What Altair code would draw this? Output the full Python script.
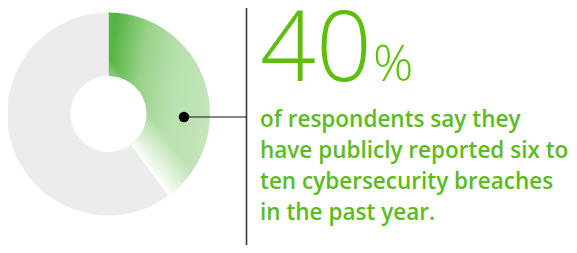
import altair as alt
import pandas as pd

# ---- data ----
slice_labels = ["publicly reported six to ten breaches", "other respondents"]
slice_values = [40, 60]
slice_order = [0, 1]
headline_number = "40"
headline_unit = "%"
body_lines = [
    "of respondents say they",
    "have publicly reported six to",
    "ten cybersecurity breaches",
    "in the past year.",
]

df = pd.DataFrame({"label": slice_labels, "value": slice_values, "idx": slice_order})
highlight = slice_labels[0]

GREEN_TEXT = "#5dbf0a"
BODY_GREEN = "#5cbb22"
GRAY = "#ebeceb"

CX, CY = 100.5, 106
R_OUT, R_IN = 101.5, 38

green_grad = alt.LinearGradient(
    gradient="linear",
    x1=0, y1=0.3, x2=1, y2=0.6,
    stops=[
        alt.GradientStop(color="#55b443", offset=0),
        alt.GradientStop(color="#98d28a", offset=0.3),
        alt.GradientStop(color="#b8e0ad", offset=0.6),
        alt.GradientStop(color="#c4e6bb", offset=1),
    ],
)
white_fade = alt.LinearGradient(
    gradient="linear",
    x1=0.37, y1=0.52, x2=0.218, y2=0.72,
    stops=[
        alt.GradientStop(color="rgba(255,255,255,0)", offset=0),
        alt.GradientStop(color="rgba(255,255,255,0.6)", offset=0.6),
        alt.GradientStop(color="rgba(255,255,255,1)", offset=1),
    ],
)

base = alt.Chart(df).encode(
    theta=alt.Theta("value:Q", stack=True),
    order=alt.Order("idx:Q"),
    x=alt.value(CX),
    y=alt.value(CY),
)

donut = base.mark_arc(radius=R_OUT, radius2=R_IN, strokeWidth=0).encode(
    fill=alt.condition(alt.datum.label == highlight, alt.value(green_grad), alt.value(GRAY))
)
fade = base.mark_arc(radius=R_OUT, radius2=R_IN, strokeWidth=0).encode(
    fill=alt.condition(alt.datum.label == highlight, alt.value(white_fade), alt.value("rgba(255,255,255,0)"))
)

vline = alt.Chart(df.head(1)).mark_rule(color="#3a3a3a", strokeWidth=1.6).encode(
    x=alt.value(238.5), y=alt.value(-10), y2=alt.value(260)
)
hline = alt.Chart(df.head(1)).mark_rule(color="#111111", strokeWidth=1.2).encode(
    x=alt.value(176), x2=alt.value(238.5), y=alt.value(109)
)
dot = alt.Chart(df.head(1)).mark_point(filled=True, color="#000000", size=110, opacity=1).encode(
    x=alt.value(176), y=alt.value(109)
)

big = alt.Chart(df.head(1)).mark_text(
    text=headline_number, font="Open Sans", fontWeight=300, fontSize=98,
    color=GREEN_TEXT, align="left", baseline="alphabetic"
).encode(x=alt.value(252), y=alt.value(73))
pct = alt.Chart(df.head(1)).mark_text(
    text=headline_unit, font="Open Sans", fontWeight=300, fontSize=50,
    color=GREEN_TEXT, align="left", baseline="alphabetic"
).encode(x=alt.value(365), y=alt.value(73))
body = alt.Chart(df.head(1)).mark_text(
    text=body_lines, font="Open Sans", fontWeight=600, fontSize=22.5, lineHeight=31,
    color=BODY_GREEN, align="left", baseline="alphabetic"
).encode(x=alt.value(252), y=alt.value(119))

chart = alt.layer(donut, fade, vline, hline, dot, big, pct, body).properties(
    width=561, height=237, padding=0, autosize=alt.AutoSizeParams(type="none")
).configure_view(stroke=None)

chart.save("out.html", embed_options={"renderer": "svg", "actions": False})
